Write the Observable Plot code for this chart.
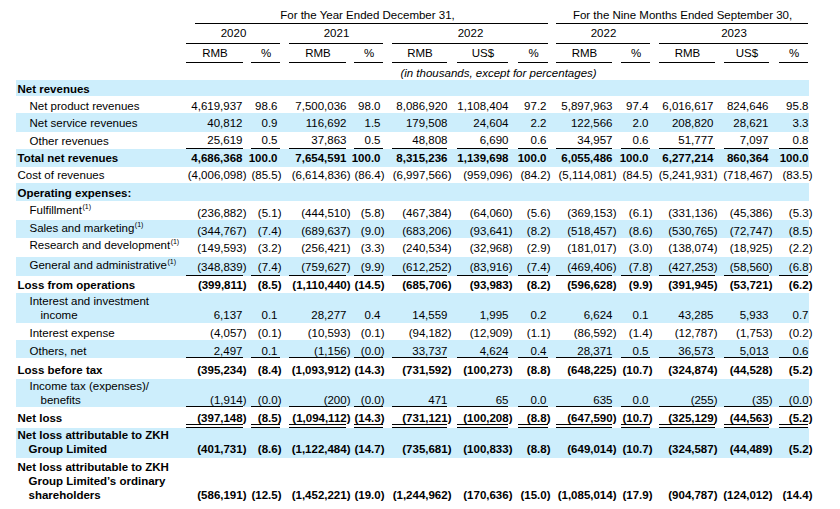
<!DOCTYPE html>
<html>
<head>
<meta charset="utf-8">
<script src="https://cdn.jsdelivr.net/npm/d3@7"></script>
<script src="https://cdn.jsdelivr.net/npm/@observablehq/plot@0.6"></script>
<style>
  html, body { margin: 0; padding: 0; background: #fff; }
  #chart svg { display: block; }
</style>
</head>
<body>
<div id="chart"></div>
<script>
// ---------------- DATA ----------------
const periodHeads = ["For the Year Ended December 31,", "For the Nine Months Ended September 30,"];
const yearHeads = ["2020", "2021", "2022", "2022", "2023"];
const unitHeads = ["RMB", "%", "RMB", "%", "RMB", "US$", "%", "RMB", "%", "RMB", "US$", "%"];
const unitNote = "(in thousands, except for percentages)";

const rowLabels = [
  "Net revenues",
  "Net product revenues",
  "Net service revenues",
  "Other revenues",
  "Total net revenues",
  "Cost of revenues",
  "Operating expenses:",
  "Fulfillment",
  "Sales and marketing",
  "Research and development",
  "General and administrative",
  "Loss from operations",
  "Interest and investment\nincome",
  "Interest expense",
  "Others, net",
  "Loss before tax",
  "Income tax (expenses)/\nbenefits",
  "Net loss",
  "Net loss attributable to ZKH\nGroup Limited",
  "Net loss attributable to ZKH\nGroup Limited’s ordinary\nshareholders"
];
const rowNotes = [null,null,null,null,null,null,null,"(1)","(1)","(1)","(1)",null,null,null,null,null,null,null,null,null];
const boldRows = [true,false,false,false,true,false,true,false,false,false,false,true,false,false,false,true,false,true,true,true];
const indentRows = [0,1,1,1,0,0,0,1,1,1,1,0,1,1,1,0,1,0,0,0];

const rmb2020 = [null, 4619937, 40812, 25619, 4686368, -4006098, null, -236882, -344767, -149593, -348839, -399811, 6137, -4057, 2497, -395234, -1914, -397148, -401731, -586191];
const pct2020 = [null, 98.6, 0.9, 0.5, 100.0, -85.5, null, -5.1, -7.4, -3.2, -7.4, -8.5, 0.1, -0.1, 0.1, -8.4, -0, -8.5, -8.6, -12.5];
const rmb2021 = [null, 7500036, 116692, 37863, 7654591, -6614836, null, -444510, -689637, -256421, -759627, -1110440, 28277, -10593, -1156, -1093912, -200, -1094112, -1122484, -1452221];
const pct2021 = [null, 98.0, 1.5, 0.5, 100.0, -86.4, null, -5.8, -9.0, -3.3, -9.9, -14.5, 0.4, -0.1, -0, -14.3, -0, -14.3, -14.7, -19.0];
const rmb2022 = [null, 8086920, 179508, 48808, 8315236, -6997566, null, -467384, -683206, -240534, -612252, -685706, 14559, -94182, 33737, -731592, 471, -731121, -735681, -1244962];
const usd2022 = [null, 1108404, 24604, 6690, 1139698, -959096, null, -64060, -93641, -32968, -83916, -93983, 1995, -12909, 4624, -100273, 65, -100208, -100833, -170636];
const pct2022 = [null, 97.2, 2.2, 0.6, 100.0, -84.2, null, -5.6, -8.2, -2.9, -7.4, -8.2, 0.2, -1.1, 0.4, -8.8, 0.0, -8.8, -8.8, -15.0];
const rmb9m2022 = [null, 5897963, 122566, 34957, 6055486, -5114081, null, -369153, -518457, -181017, -469406, -596628, 6624, -86592, 28371, -648225, 635, -647590, -649014, -1085014];
const pct9m2022 = [null, 97.4, 2.0, 0.6, 100.0, -84.5, null, -6.1, -8.6, -3.0, -7.8, -9.9, 0.1, -1.4, 0.5, -10.7, 0.0, -10.7, -10.7, -17.9];
const rmb9m2023 = [null, 6016617, 208820, 51777, 6277214, -5241931, null, -331136, -530765, -138074, -427253, -391945, 43285, -12787, 36573, -324874, -255, -325129, -324587, -904787];
const usd9m2023 = [null, 824646, 28621, 7097, 860364, -718467, null, -45386, -72747, -18925, -58560, -53721, 5933, -1753, 5013, -44528, -35, -44563, -44489, -124012];
const pct9m2023 = [null, 95.8, 3.3, 0.8, 100.0, -83.5, null, -5.3, -8.5, -2.2, -6.8, -6.2, 0.7, -0.2, 0.6, -5.2, -0, -5.2, -5.2, -14.4];

const valueColumns = [rmb2020, pct2020, rmb2021, pct2021, rmb2022, usd2022, pct2022, rmb9m2022, pct9m2022, rmb9m2023, usd9m2023, pct9m2023];
const isPctColumn = [false, true, false, true, false, false, true, false, true, false, false, true];

// rows followed by a single / double underline
const singleRuleAfter = [3, 10, 14, 16];
const doubleRuleAfter = [17];

// ---------------- LAYOUT ----------------
const W = 840, H = 509;
const font = "'Liberation Sans', Arial, Helvetica, sans-serif";
const fs = 11.5;
const bandFill = "#cdeefc";
const ink = "#000";

const colSpan = [[186,243],[251,280],[289,346],[354,383],[392,447],[457,508],[518,548],[556,612],[621,650],[659,715],[724,769],[779,808]];
const colRight = [242, 277, 346, 380, 447, 508, 546, 612, 648, 713, 768, 808];
const yearSpanCols = [[0,1],[2,3],[4,6],[7,8],[9,11]];
const periodSpan = [[195,548],[556,808]];
const periodCenter = [367, 682];
const rowBands = [[80,96],[96,113],[113,132],[132,149],[149,167],[167,183],[183,201],[201,220],[220,238],[238,257],[257,276],[276,293],[293,323],[323,340],[340,358],[358,379],[379,407],[407,428],[428,458],[458,509]];
const valueY = [89,106,123,140,158,175,193,213,231,248,267,285,315,333,351,370,400,418,449,495];
const labelShift = [0,0,0,1,0,0,0,-3,-3,-3,-2,0,0,0,0,0,0,0,0,0];
const indentX = [17, 29];
const contIndent = 11;
const lineGap = 14.3;

// measure text width for superscript placement
const ctx = document.createElement("canvas").getContext("2d");
function textWidth(s, bold) {
  ctx.font = `${bold ? "bold " : ""}${fs}px ${font}`;
  return ctx.measureText(s).width;
}

function fmt(v, pct) {
  const neg = v < 0 || Object.is(v, -0);
  const s = pct ? d3.format(".1f")(Math.abs(v)) : d3.format(",")(Math.abs(v));
  return neg ? `(${s})` : s;
}

// background bands (alternating, starting with a shaded row)
const bands = rowBands.map(([y1, y2], i) => ({x1: 16, x2: 809, y1, y2, shaded: i % 2 === 0})).filter(d => d.shaded);

// header texts and rules
const headText = [];
const headRules = [];
periodHeads.forEach((t, i) => {
  headText.push({x: periodCenter[i], y: 15, text: t, italic: false});
  headRules.push({x1: periodSpan[i][0], x2: periodSpan[i][1], y: 23});
});
yearHeads.forEach((t, i) => {
  const [a, b] = yearSpanCols[i];
  const x1 = colSpan[a][0], x2 = colSpan[b][1];
  headText.push({x: (x1 + x2) / 2, y: 33, text: t, italic: false});
  headRules.push({x1, x2, y: 43});
});
unitHeads.forEach((t, j) => {
  const [x1, x2] = colSpan[j];
  headText.push({x: (x1 + x2) / 2, y: 53, text: t, italic: false});
  headRules.push({x1, x2, y: 62});
});

// row labels (each line separately for hanging indents)
const labelLines = [];
const noteMarks = [];
rowLabels.forEach((lab, i) => {
  const lines = lab.split("\n");
  const baseX = indentX[indentRows[i]];
  const lastY = valueY[i] + labelShift[i];
  lines.forEach((ln, k) => {
    labelLines.push({
      x: k === 0 ? baseX : baseX + contIndent,
      y: lastY - (lines.length - 1 - k) * lineGap,
      text: ln,
      bold: boldRows[i]
    });
  });
  if (rowNotes[i]) {
    noteMarks.push({x: baseX + textWidth(lines[0], boldRows[i]) + 0.5, y: lastY - 4, text: rowNotes[i]});
  }
});

// value cells
const cells = [];
rowLabels.forEach((_, i) => {
  valueColumns.forEach((col, j) => {
    const v = col[i];
    if (v == null) return;
    const neg = v < 0 || Object.is(v, -0);
    cells.push({x: colRight[j] + (neg ? 4 : 0), y: valueY[i], text: fmt(v, isPctColumn[j]), bold: boldRows[i]});
  });
});

// underline rules beneath value cells
const bodyRules = [];
singleRuleAfter.forEach(i => colSpan.forEach(([x1, x2]) => bodyRules.push({x1, x2, y: rowBands[i][1] - 1})));
doubleRuleAfter.forEach(i => colSpan.forEach(([x1, x2]) => {
  bodyRules.push({x1, x2, y: rowBands[i][1] - 4});
  bodyRules.push({x1, x2, y: rowBands[i][1] - 1});
}));

const chart = Plot.plot({
  width: W,
  height: H,
  margin: 0,
  x: {type: "linear", domain: [0, W], range: [0, W], axis: null},
  y: {type: "linear", domain: [0, H], range: [0, H], axis: null},
  style: {fontFamily: font, fontSize: `${fs}px`, background: "#fff", color: ink},
  marks: [
    Plot.rect(bands, {x1: "x1", x2: "x2", y1: "y1", y2: "y2", fill: bandFill}),
    Plot.ruleY(headRules, {y: "y", x1: "x1", x2: "x2", stroke: ink, strokeWidth: 1}),
    Plot.ruleY(bodyRules, {y: "y", x1: "x1", x2: "x2", stroke: ink, strokeWidth: 1}),
    Plot.text(headText, {x: "x", y: "y", text: "text", textAnchor: "middle", fill: ink, fontSize: fs}),
    Plot.text([{x: 498, y: 73, text: unitNote}], {x: "x", y: "y", text: "text", textAnchor: "middle", fill: ink, fontSize: fs, fontStyle: "italic"}),
    Plot.text(labelLines.filter(d => !d.bold), {x: "x", y: "y", text: "text", textAnchor: "start", fill: ink, fontSize: fs}),
    Plot.text(labelLines.filter(d => d.bold), {x: "x", y: "y", text: "text", textAnchor: "start", fill: ink, fontSize: fs, fontWeight: "bold"}),
    Plot.text(noteMarks, {x: "x", y: "y", text: "text", textAnchor: "start", fill: ink, fontSize: 7}),
    Plot.text(cells.filter(d => !d.bold), {x: "x", y: "y", text: "text", textAnchor: "end", fill: ink, fontSize: fs}),
    Plot.text(cells.filter(d => d.bold), {x: "x", y: "y", text: "text", textAnchor: "end", fill: ink, fontSize: fs, fontWeight: "bold"})
  ]
});
document.getElementById("chart").append(chart);
</script>
</body>
</html>
